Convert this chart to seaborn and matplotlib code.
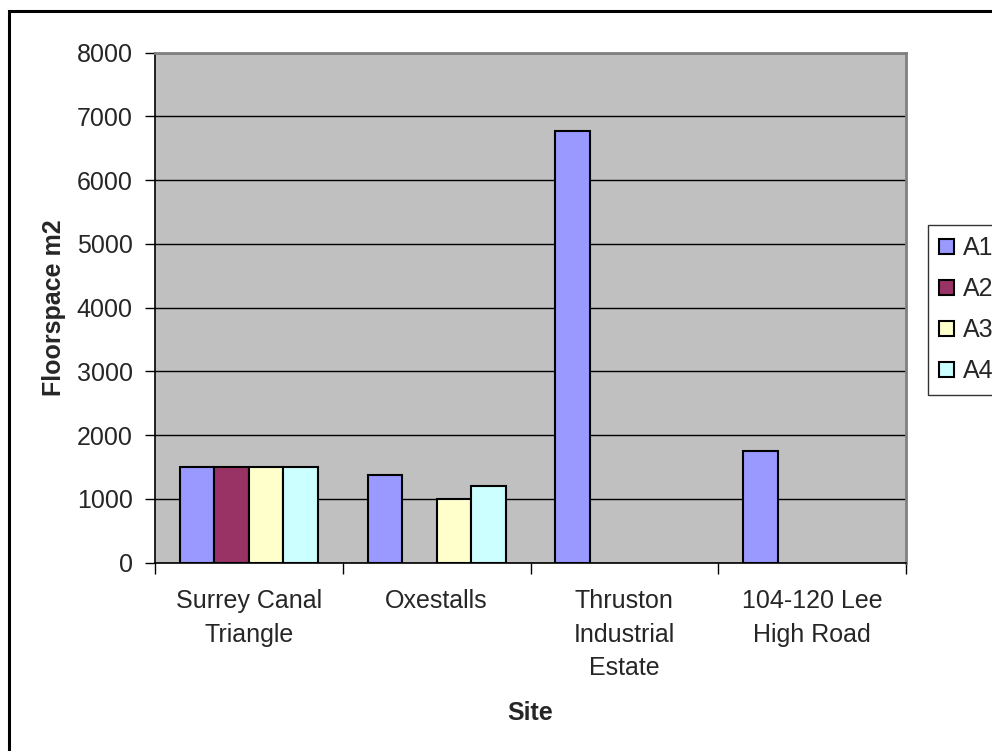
import pandas as pd
import numpy as np
import matplotlib
matplotlib.use("Agg")
import matplotlib.pyplot as plt
import seaborn as sns
from matplotlib.patches import Patch, Rectangle

# Data
sites = ["Surrey Canal\nTriangle", "Oxestalls", "Thruston\nIndustrial\nEstate", "104-120 Lee\nHigh Road"]
uses = ["A1", "A2", "A3", "A4"]
a1 = [1500, 1380, 6770, 1750]
a2 = [1500, np.nan, np.nan, np.nan]
a3 = [1500, 1000, np.nan, np.nan]
a4 = [1500, 1200, np.nan, np.nan]
colors = ["#9999FF", "#993366", "#FFFFCC", "#CCFFFF"]
y_ticks = [0, 1000, 2000, 3000, 4000, 5000, 6000, 7000, 8000]

# long-form table for seaborn
rows = []
for use, vals in zip(uses, [a1, a2, a3, a4]):
    for site, v in zip(sites, vals):
        rows.append({"Site": site, "Use": use, "Floorspace": v})
df = pd.DataFrame(rows)

sns.set_style("white")
plt.rcParams["font.family"] = ["Liberation Sans", "DejaVu Sans"]
fs = 18

fig = plt.figure(figsize=(9.92, 7.51), dpi=100)
ax = fig.add_axes([155 / 992, 1 - 562.7 / 751, 751 / 992, 510 / 751])

sns.barplot(data=df, x="Site", y="Floorspace", hue="Use", order=sites,
            hue_order=uses, palette=colors, width=0.735, gap=0,
            edgecolor="black", linewidth=1.5, saturation=1, ax=ax,
            legend=False, errorbar=None)

ax.set_facecolor("#C0C0C0")
ax.set_ylim(0, 8000)
ax.set_xlim(-0.5, len(sites) - 0.5)
ax.set_yticks(y_ticks)
ax.set_yticklabels([str(t) for t in y_ticks], fontsize=fs)
ax.yaxis.grid(True, color="black", linewidth=1)
ax.set_axisbelow(True)

# category boundary ticks, labels centred on groups
ax.set_xticks(np.arange(-0.5, len(sites), 1.0))
ax.set_xticklabels([])
ax.set_xticks(range(len(sites)), minor=True)
ax.set_xticklabels(sites, minor=True, fontsize=fs, linespacing=1.5, va="top")
ax.tick_params(axis="x", which="major", length=8, width=1, color="black", direction="out", bottom=True)
ax.tick_params(axis="x", which="minor", length=0, pad=19)
ax.tick_params(axis="y", length=7, width=1, color="black", direction="out", left=True, pad=9)

for side in ["left", "bottom"]:
    ax.spines[side].set_color("black")
    ax.spines[side].set_linewidth(1.2)
for side in ["top", "right"]:
    ax.spines[side].set_color("#808080")
    ax.spines[side].set_linewidth(2)

ax.set_ylabel("Floorspace m2", fontsize=fs, fontweight="bold", va="center")
ax.yaxis.set_label_coords(-0.135, 0.5)
ax.set_xlabel("Site", fontsize=fs, fontweight="bold", va="center")
ax.xaxis.set_label_coords(0.5, -0.295)

# legend with square swatches, partly cut off on the right like the original
handles = [Patch(facecolor=c, edgecolor="black", linewidth=1.5) for c in colors]
leg = fig.legend(handles, uses, loc="upper left",
                 bbox_to_anchor=(928 / 992, 1 - 225 / 751),
                 bbox_transform=fig.transFigure, fontsize=fs,
                 handlelength=0.6, handleheight=0.6, handletextpad=0.35,
                 labelspacing=0.68, borderpad=0.45, borderaxespad=0,
                 frameon=True, fancybox=False)
leg.get_frame().set_edgecolor("black")
leg.get_frame().set_linewidth(1)

# outer border of the chart area
fig.patches.append(Rectangle((9 / 992, -0.1), 1.2, 1.1 - 11 / 751,
                             transform=fig.transFigure, fill=False,
                             edgecolor="black", linewidth=2.2))

fig.savefig("out.png", dpi=100)
